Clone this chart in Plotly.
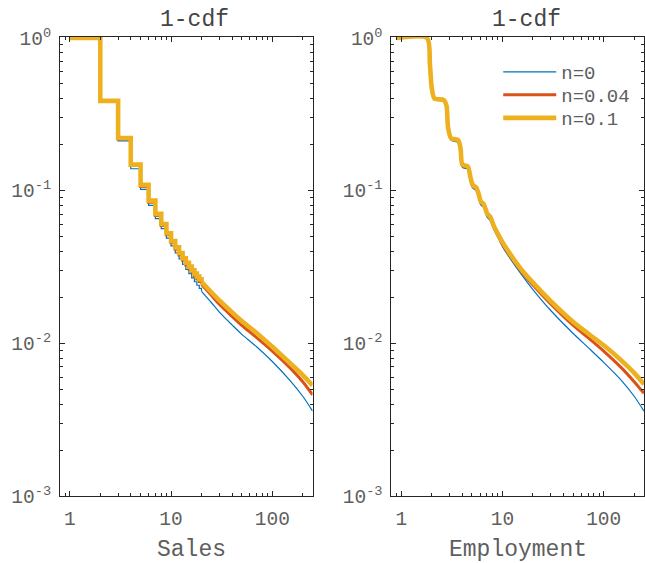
import plotly.graph_objects as go

# ---------------- data ----------------
series_names = ["n=0", "n=0.04", "n=0.1"]

# Sales panel: 1-cdf as stairs on integer values, then the continuous tail
sales_k = list(range(1, 21))
sales_n0_head = [1.0, 0.381, 0.212, 0.139, 0.1019, 0.080, 0.0655, 0.0563, 0.0489, 0.0434,
                 0.0391, 0.0357, 0.0329, 0.0305, 0.0286, 0.0268, 0.0253, 0.0240, 0.0229, 0.0219]
sales_n004_head = [1.0, 0.385, 0.218, 0.146, 0.1063, 0.0839, 0.0687, 0.0590, 0.0513, 0.0455,
                   0.0413, 0.0379, 0.0350, 0.0326, 0.0307, 0.0291, 0.0276, 0.0264, 0.0254, 0.0244]
sales_n01_head = [1.0, 0.387, 0.221, 0.148, 0.109, 0.086, 0.0704, 0.0605, 0.0526, 0.0467,
                  0.0425, 0.0390, 0.0361, 0.0337, 0.0318, 0.0301, 0.0286, 0.0274, 0.0263, 0.0253]

sales_tail_x = [20, 25, 30, 40, 50, 70, 100, 150, 200, 250]
sales_n0_tail = [0.0219, 0.0185, 0.0160, 0.0132, 0.01145, 0.0095, 0.0076, 0.0057, 0.0045, 0.0036]
sales_n004_tail = [0.0244, 0.0206, 0.0180, 0.0150, 0.0131, 0.0109, 0.0089, 0.0069, 0.0056, 0.0046]
sales_n01_tail = [0.0253, 0.0216, 0.0191, 0.0160, 0.0140, 0.0117, 0.0095, 0.0074, 0.0062, 0.0053]

# Employment panel: smoothed steps
emp_x = [0.91, 1.8, 1.92, 2.0, 2.13, 2.63, 2.8, 2.9, 3.1, 3.65, 3.85, 4.02, 4.55, 4.83,
         5.08, 5.5, 5.85, 6.1, 6.5, 6.8, 7.05, 7.6, 7.9, 8.2, 9.2,
         10, 15, 20, 30, 50, 70, 100, 150, 200, 250]
emp_n0 = [1.0, 1.0, 0.67, 0.47, 0.396, 0.386, 0.352, 0.252, 0.214, 0.207, 0.183, 0.142, 0.138,
          0.116, 0.104, 0.100, 0.089, 0.0805, 0.0778, 0.072, 0.067, 0.0634, 0.0596, 0.0558, 0.0481,
          0.0430, 0.0289, 0.0225, 0.0164, 0.0116, 0.0094, 0.0075, 0.0057, 0.0045, 0.0036]
emp_n004 = [1.0, 1.0, 0.672, 0.472, 0.399, 0.390, 0.357, 0.257, 0.219, 0.212, 0.188, 0.146, 0.142,
            0.120, 0.107, 0.103, 0.092, 0.0835, 0.0805, 0.0746, 0.0697, 0.0658, 0.0618, 0.0578, 0.0498,
            0.0446, 0.0302, 0.0241, 0.0181, 0.0131, 0.0109, 0.0089, 0.0069, 0.0056, 0.0047]
emp_n01 = [1.0, 1.0, 0.673, 0.473, 0.401, 0.392, 0.36, 0.259, 0.221, 0.214, 0.19, 0.148, 0.144,
           0.122, 0.109, 0.105, 0.094, 0.085, 0.082, 0.076, 0.071, 0.067, 0.063, 0.059, 0.0508,
           0.046, 0.0311, 0.0250, 0.0189, 0.0138, 0.0116, 0.0097, 0.0077, 0.0064, 0.0054]

x_tickvals = [1, 10, 100]
x_ticktext = ["1", "10", "100"]
y_tickvals = [0.001, 0.01, 0.1, 1]
y_ticktext = ["10<sup>-3</sup>", "10<sup>-2</sup>", "10<sup>-1</sup>", "10<sup>0</sup>"]
panel_titles = ["1-cdf", "1-cdf"]
x_titles = ["Sales", "Employment"]

# ---------------- styling ----------------
colors = ["#0072BD", "#D95319", "#EDB120"]
widths = [1.2, 3.0, 4.6]
FONT = "Liberation Mono"
AXC = "#262626"
TXC = "#5e5e5e"
legend_ids = ["legend", "legend2", "legend3"]
legend_y = [0.9237, 0.8736, 0.8235]

fig = go.Figure()

sales_heads = [sales_n0_head, sales_n004_head, sales_n01_head]
sales_tails = [sales_n0_tail, sales_n004_tail, sales_n01_tail]
emp_series = [emp_n0, emp_n004, emp_n01]

for i in range(3):
    fig.add_trace(go.Scatter(x=sales_k, y=sales_heads[i], mode="lines", xaxis="x", yaxis="y",
                             line=dict(color=colors[i], width=widths[i], shape="hv"),
                             legendgroup=series_names[i], showlegend=False, name=series_names[i]))
    fig.add_trace(go.Scatter(x=sales_tail_x, y=sales_tails[i], mode="lines", xaxis="x", yaxis="y",
                             line=dict(color=colors[i], width=widths[i], shape="spline", smoothing=0.8),
                             legendgroup=series_names[i], showlegend=False, name=series_names[i]))
for i in range(3):
    fig.add_trace(go.Scatter(x=emp_x, y=emp_series[i], mode="lines", xaxis="x2", yaxis="y2",
                             line=dict(color=colors[i], width=widths[i], shape="spline", smoothing=0.7),
                             legendgroup=series_names[i], showlegend=True, name=series_names[i],
                             legend=legend_ids[i]))

x_minor = [m * 10 ** e for e in (-1, 0, 1, 2) for m in range(2, 10)]
y_minor = [m * 10 ** e for e in (-3, -2, -1) for m in range(2, 10)]

def xaxis(domain, anchor):
    return dict(type="log", domain=domain, anchor=anchor, range=[-0.0969, 2.398],
                showline=True, linecolor=AXC, linewidth=1, mirror="ticks", automargin=False,
                ticks="inside", ticklen=5, tickcolor=AXC, tickwidth=1, ticklabelstandoff=5,
                tickvals=x_tickvals, ticktext=x_ticktext, showgrid=False, zeroline=False,
                tickfont=dict(family=FONT, size=19.5, color=TXC),
                minor=dict(ticks="inside", ticklen=3, tickcolor=AXC, tickvals=x_minor, showgrid=False))

def yaxis(domain, anchor):
    return dict(type="log", domain=domain, anchor=anchor, range=[-3, 0.006],
                showline=True, linecolor=AXC, linewidth=1, mirror="ticks", automargin=False,
                ticks="inside", ticklen=5, tickcolor=AXC, tickwidth=1, ticklabelstandoff=4,
                tickvals=y_tickvals, ticktext=y_ticktext, showgrid=False, zeroline=False,
                tickfont=dict(family=FONT, size=19.5, color=TXC),
                minor=dict(ticks="inside", ticklen=3, tickcolor=AXC, tickvals=y_minor, showgrid=False))

ann = []
for xc, t in zip([0.2308, 0.798], panel_titles):
    ann.append(dict(text=t, x=xc, y=1.038, xref="paper", yref="paper", showarrow=False,
                    xanchor="center", yanchor="middle", font=dict(family=FONT, size=23, color="#444444")))
for xc, t in zip([0.2251, 0.7838], x_titles):
    ann.append(dict(text=t, x=xc, y=-0.1176, xref="paper", yref="paper", showarrow=False,
                    xanchor="center", yanchor="middle", font=dict(family=FONT, size=23, color=TXC)))

legends = {}
for lid, ly in zip(legend_ids, legend_y):
    legends[lid] = dict(x=0.7504, y=ly, xanchor="left", yanchor="middle", bgcolor="rgba(0,0,0,0)",
                        font=dict(family=FONT, size=19, color=TXC), itemwidth=53)

fig.update_layout(
    width=645, height=563,
    margin=dict(l=60, r=1, t=37, b=67),
    paper_bgcolor="white", plot_bgcolor="white",
    xaxis=xaxis([0, 0.4325], "y"),
    yaxis=yaxis([0, 1], "x"),
    xaxis2=xaxis([0.5675, 1], "y2"),
    yaxis2=yaxis([0, 1], "x2"),
    annotations=ann,
    showlegend=True,
    **legends,
)

fig.write_html("out.html", config={"displayModeBar": False},
               post_script="document.body.style.margin='0';document.body.style.overflow='hidden';")
